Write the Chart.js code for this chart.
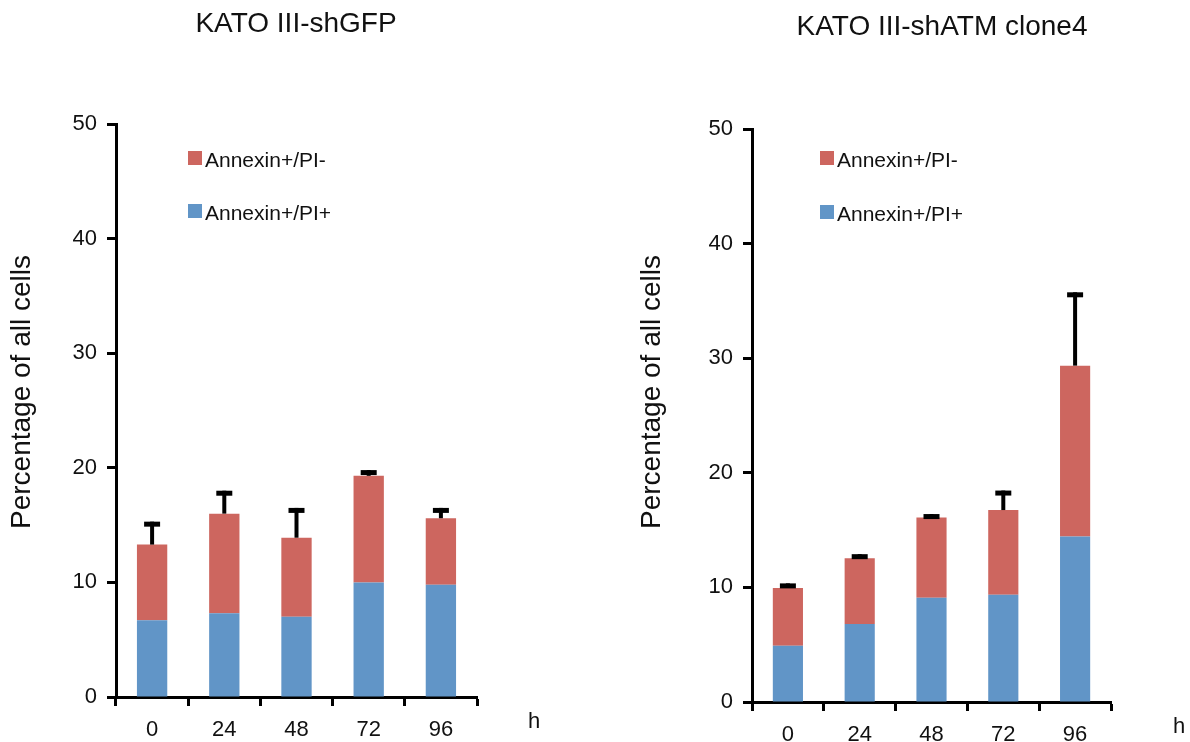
<!DOCTYPE html>
<html>
<head>
<meta charset="utf-8">
<script src="https://cdn.jsdelivr.net/npm/chart.js@4.4.1/dist/chart.umd.min.js"></script>
<style>
  html, body { margin: 0; padding: 0; background: #fff; }
  body { width: 1190px; height: 742px; position: relative; overflow: hidden; }
  .panel { position: absolute; top: 0; height: 742px; }
  #left { left: 0; width: 595px; }
  #right { left: 625px; width: 565px; }
</style>
</head>
<body>
<div class="panel" id="left"><canvas id="c1"></canvas></div>
<div class="panel" id="right"><canvas id="c2"></canvas></div>
<script>
// time points (h)
const hours = ['0', '24', '48', '72', '96'];
const seriesNames = ['Annexin+/PI+', 'Annexin+/PI-'];

// KATO III-shGFP
const gfpPIpos = [6.7, 7.3, 7.0, 10.0, 9.8];
const gfpPIneg = [6.6, 8.7, 6.9, 9.3, 5.8];
const gfpErr = [2.0, 2.0, 2.6, 0.5, 0.9];

// KATO III-shATM clone4
const atmPIpos = [4.9, 6.8, 9.1, 9.35, 14.45];
const atmPIneg = [5.05, 5.75, 7.0, 7.4, 14.9];
const atmErr = [0.4, 0.35, 0.3, 1.7, 6.4];

const yTicks = [0, 10, 20, 30, 40, 50];

const FONT = "'Liberation Sans', Arial, Helvetica, sans-serif";
const RED = '#cd665f';
const BLUE = '#6195c7';
const INK = '#111';

// error bars (upper only), legend, titles and the "h" unit label
const panelPlugin = {
  id: 'panel',
  afterDatasetsDraw(chart, args, opts) {
    const ctx = chart.ctx;
    const y = chart.scales.y;
    const ds = chart.data.datasets;
    const meta = chart.getDatasetMeta(1);
    ctx.save();
    ctx.strokeStyle = '#000';
    meta.data.forEach((bar, i) => {
      const total = ds[0].data[i] + ds[1].data[i];
      const y0 = y.getPixelForValue(total);
      const y1 = y.getPixelForValue(total + opts.errors[i]);
      ctx.lineWidth = 4;
      ctx.beginPath();
      ctx.moveTo(bar.x, y0);
      ctx.lineTo(bar.x, y1);
      ctx.stroke();
      ctx.lineWidth = 5;
      ctx.beginPath();
      ctx.moveTo(bar.x - 8, y1 + 2.5);
      ctx.lineTo(bar.x + 8, y1 + 2.5);
      ctx.stroke();
    });
    ctx.restore();
  },
  afterDraw(chart, args, opts) {
    const ctx = chart.ctx;
    const ds = chart.data.datasets;
    ctx.save();
    ctx.fillStyle = INK;

    // title
    ctx.font = '28px ' + FONT;
    ctx.textAlign = 'center';
    ctx.textBaseline = 'alphabetic';
    ctx.fillText(opts.title, opts.titleX, opts.titleY);

    // legend, top series first
    ctx.font = '21px ' + FONT;
    ctx.textAlign = 'left';
    [ds[1], ds[0]].forEach((d, k) => {
      const ly = opts.legendY + k * opts.legendGap;
      ctx.fillStyle = d.backgroundColor;
      ctx.fillRect(opts.legendX, ly, 14, 14);
      ctx.fillStyle = INK;
      ctx.fillText(d.label, opts.legendX + 17, ly + 16);
    });

    // unit label under the x axis end
    ctx.font = '22px ' + FONT;
    ctx.textAlign = 'center';
    ctx.fillText('h', opts.hX, opts.hY);

    // y axis title
    ctx.font = '28px ' + FONT;
    ctx.translate(opts.yTitleX, opts.yTitleY);
    ctx.rotate(-Math.PI / 2);
    ctx.textAlign = 'center';
    ctx.fillText('Percentage of all cells', 0, 0);
    ctx.restore();
  }
};

function makeChart(canvasId, piPos, piNeg, panel, geo) {
  return new Chart(document.getElementById(canvasId), {
    type: 'bar',
    data: {
      labels: hours,
      datasets: [
        { label: seriesNames[0], data: piPos, backgroundColor: BLUE },
        { label: seriesNames[1], data: piNeg, backgroundColor: RED }
      ]
    },
    plugins: [panelPlugin],
    options: {
      responsive: true,
      maintainAspectRatio: false,
      animation: false,
      devicePixelRatio: 1,
      layout: { padding: { left: 0, top: geo.top, right: geo.right, bottom: 0 } },
      datasets: { bar: { barPercentage: 0.42, categoryPercentage: 1.0 } },
      plugins: {
        legend: { display: false },
        tooltip: { enabled: false },
        panel: panel
      },
      scales: {
        x: {
          stacked: true,
          z: 1,
          afterFit: (s) => { s.height = geo.xHeight; },
          grid: { display: true, drawOnChartArea: false, drawTicks: true, tickLength: 9, tickWidth: 3, tickColor: '#000' },
          border: { display: true, color: '#000', width: 3 },
          ticks: { color: INK, padding: 11, font: { family: FONT, size: 22 } }
        },
        y: {
          stacked: true,
          z: 1,
          min: 0,
          max: 50,
          afterFit: (s) => { s.width = geo.yWidth; },
          afterBuildTicks: (s) => { s.ticks = yTicks.map(v => ({ value: v })); },
          grid: { display: true, drawOnChartArea: false, drawTicks: true, tickLength: 9, tickWidth: 3, tickColor: '#000' },
          border: { display: true, color: '#000', width: 3 },
          ticks: { color: INK, padding: 10, font: { family: FONT, size: 22 } }
        }
      }
    }
  });
}

makeChart('c1', gfpPIpos, gfpPIneg, {
  errors: gfpErr,
  title: 'KATO III-shGFP', titleX: 296, titleY: 32,
  legendX: 188, legendY: 151, legendGap: 53,
  hX: 534, hY: 728,
  yTitleX: 30, yTitleY: 392
}, { top: 124, right: 118, yWidth: 116, xHeight: 45 });

makeChart('c2', atmPIpos, atmPIneg, {
  errors: atmErr,
  title: 'KATO III-shATM clone4', titleX: 317, titleY: 35,
  legendX: 195, legendY: 151, legendGap: 54,
  hX: 554, hY: 733,
  yTitleX: 35, yTitleY: 392
}, { top: 129, right: 79, yWidth: 127, xHeight: 40 });
</script>
</body>
</html>
